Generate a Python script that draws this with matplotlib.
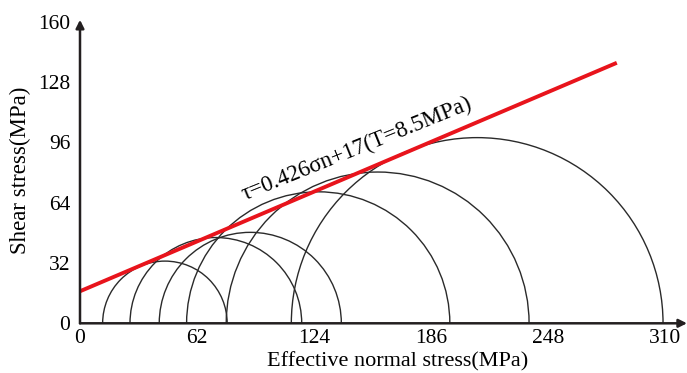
import matplotlib.pyplot as plt
from matplotlib.patches import Arc
import numpy as np

plt.rcParams['font.family'] = ['Liberation Serif', 'DejaVu Serif']

# Mohr circles: minimum / maximum effective principal stress (MPa)
sigma3 = [12.0, 26.5, 42.0, 56.5, 77.5, 112.0]
sigma1 = [78.0, 117.5, 138.5, 196.0, 238.0, 309.0]

# failure envelope tau = 0.426*sigma_n + 17
env_slope = 0.426
env_intercept = 17
env_sigma = np.array([0, 284.5])

xticks = [0, 62, 124, 186, 248, 310]
yticks = [0, 32, 64, 96, 128, 160]

fig = plt.figure(figsize=(6.87, 3.73), dpi=100)
ax = fig.add_axes([80/687, 49.7/373, 607/687, 301.6/373])
ax.set_xlim(0, 321.7)
ax.set_ylim(0, 160)

for s3, s1 in zip(sigma3, sigma1):
    c = (s3 + s1) / 2
    d = s1 - s3
    ax.add_patch(Arc((c, 0), d, d, theta1=0, theta2=180, color='#2a2a2a', lw=1.0))

ax.plot(env_sigma, env_slope*env_sigma + env_intercept, color='#e8141c', lw=2.8, solid_capstyle='butt')

ax.text(147, 92.5, 'τ=0.426σn+17(T=8.5MPa)', rotation=22, rotation_mode='anchor',
        ha='center', va='center', fontsize=16.5)

for s in ax.spines.values():
    s.set_visible(False)
ax.annotate('', xy=(321.7, 0), xytext=(0, 0), annotation_clip=False,
            arrowprops=dict(arrowstyle='-|>', color='#231f20', lw=1.8, shrinkA=0, shrinkB=0, mutation_scale=12))
ax.annotate('', xy=(0, 161), xytext=(0, 0), annotation_clip=False,
            arrowprops=dict(arrowstyle='-|>', color='#231f20', lw=1.8, shrinkA=0, shrinkB=0, mutation_scale=12))

ax.set_xticks(xticks)
ax.set_yticks(yticks)
ax.tick_params(length=0, labelsize=15.5, pad=7)
ax.tick_params(axis='x', pad=4)
ax.set_xlabel('Effective normal stress(MPa)', fontsize=16)
ax.set_ylabel('Shear stress(MPa)', fontsize=16.5)
ax.xaxis.set_label_coords(0.523, -0.096)
ax.yaxis.set_label_coords(-0.08, 0.508)

fig.savefig('out.png', dpi=100)
